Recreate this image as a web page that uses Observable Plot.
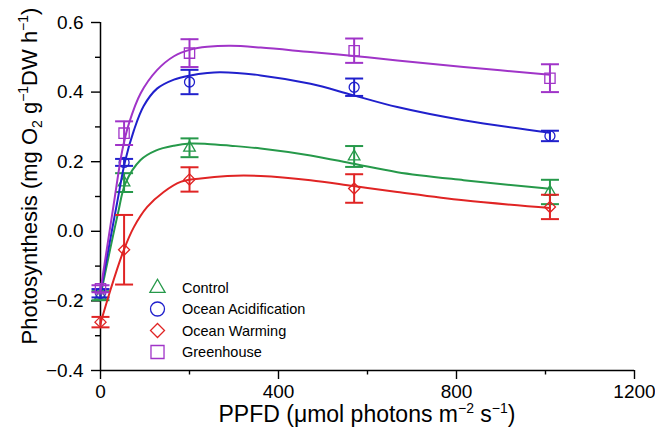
<!DOCTYPE html>
<html><head><meta charset="utf-8">
<script src="https://cdn.jsdelivr.net/npm/d3@7"></script>
<script src="https://cdn.jsdelivr.net/npm/@observablehq/plot@0.6"></script>
<style>body{margin:0;background:#fff} svg{display:block}</style>
</head><body><div id="chart"></div>
<script>
// ---- data ----
const ppfd = [0, 53, 200, 570, 1010];
const seriesNames = ["Control", "Ocean Acidification", "Ocean Warming", "Greenhouse"];

const controlMean = [-0.185, 0.14, 0.24, 0.215, 0.113];
const controlErr  = [0.013, 0.027, 0.027, 0.03, 0.035];
const acidMean    = [-0.178, 0.198, 0.429, 0.414, 0.274];
const acidErr     = [0.012, 0.01, 0.035, 0.025, 0.015];
const warmMean    = [-0.261, -0.053, 0.149, 0.123, 0.07];
const warmErr     = [0.015, 0.1, 0.035, 0.041, 0.035];
const houseMean   = [-0.165, 0.282, 0.512, 0.519, 0.44];
const houseErr    = [0.01, 0.034, 0.04, 0.035, 0.04];

// fitted curves
const controlFitX = [0, 39, 56, 90, 124, 165, 202, 240, 292, 360, 472, 569, 667, 816, 1010];
const controlFitY = [-0.185, 0.05, 0.138, 0.205, 0.232, 0.246, 0.252, 0.251, 0.246, 0.238, 0.218, 0.194, 0.17, 0.147, 0.122];
const acidFitX = [0, 37, 55, 75, 97, 127, 165, 202, 240, 270, 360, 472, 565, 667, 816, 1010];
const acidFitY = [-0.175, 0.08, 0.2, 0.29, 0.36, 0.41, 0.436, 0.448, 0.455, 0.457, 0.448, 0.424, 0.392, 0.357, 0.319, 0.283];
const warmFitX = [0, 22, 52, 75, 105, 142, 180, 225, 285, 360, 472, 569, 667, 816, 1010];
const warmFitY = [-0.265, -0.17, -0.055, 0.012, 0.07, 0.113, 0.142, 0.152, 0.159, 0.159, 0.147, 0.13, 0.113, 0.089, 0.067];
const houseFitX = [0, 30, 49, 64, 90, 127, 165, 202, 240, 292, 360, 472, 569, 667, 816, 1010];
const houseFitY = [-0.17, 0.08, 0.233, 0.31, 0.396, 0.463, 0.503, 0.522, 0.53, 0.533, 0.528, 0.515, 0.504, 0.491, 0.472, 0.45];

const xMajor = [0, 400, 800, 1200];
const xMinor = [200, 600, 1000];
const yMajor = [-0.4, -0.2, 0, 0.2, 0.4, 0.6];
const yMinor = [-0.3, -0.1, 0.1, 0.3, 0.5];

// ---- styles ----
const colors = ["#26994a", "#2020cc", "#e02424", "#a034c8"];
const symbols = ["triangle", "circle", "diamond2", "square"];
const radii = [4.3, 5, 5, 5.8];
const means = [controlMean, acidMean, warmMean, houseMean];
const errs = [controlErr, acidErr, warmErr, houseErr];
const fitsX = [controlFitX, acidFitX, warmFitX, houseFitX];
const fitsY = [controlFitY, acidFitY, warmFitY, houseFitY];

const cap = {draw(ctx, size) { const w = Math.sqrt(size / Math.PI); ctx.moveTo(-w, 0); ctx.lineTo(w, 0); }};

const marks = [
  Plot.axisX({ticks: xMajor, tickSize: 9, tickPadding: 5, tickFormat: d => String(d), label: null, strokeWidth: 1.4}),
  Plot.axisX({ticks: xMinor, tickSize: 4.5, fill: "none", label: null, strokeWidth: 1.4}),
  Plot.axisY({ticks: yMajor, tickSize: 9, tickPadding: 8, label: null, strokeWidth: 1.4}),
  Plot.axisY({ticks: yMinor, tickSize: 5, fill: "none", label: null, strokeWidth: 1.4}),
  Plot.ruleX([0], {stroke: "black", strokeWidth: 1.5}),
  Plot.ruleY([-0.4], {stroke: "black", strokeWidth: 1.5})
];

seriesNames.forEach((name, k) => {
  const pts = ppfd.map((x, i) => ({x, m: means[k][i], lo: means[k][i] - errs[k][i], hi: means[k][i] + errs[k][i]}));
  const fit = fitsX[k].map((x, i) => ({x, y: fitsY[k][i]}));
  marks.push(Plot.line(fit, {x: "x", y: "y", stroke: colors[k], strokeWidth: 2, curve: "catmull-rom"}));
  marks.push(Plot.ruleX(pts, {x: "x", y1: "lo", y2: "hi", stroke: colors[k], strokeWidth: 2}));
  marks.push(Plot.dot(pts, {x: "x", y: "lo", symbol: cap, r: 9, stroke: colors[k], strokeWidth: 2}));
  marks.push(Plot.dot(pts, {x: "x", y: "hi", symbol: cap, r: 9, stroke: colors[k], strokeWidth: 2}));
  marks.push(Plot.dot(pts, {x: "x", y: "m", symbol: symbols[k], r: radii[k], stroke: colors[k], fill: "none", strokeWidth: 1.3}));
});

const chart = Plot.plot({
  width: 655, height: 444,
  marginLeft: 100, marginRight: 21, marginTop: 22, marginBottom: 74,
  x: {domain: [0, 1200]},
  y: {domain: [-0.4, 0.6]},
  style: {fontFamily: "'Liberation Sans', Arial, sans-serif", fontSize: "19px", color: "black", background: "white"},
  marks
});
document.getElementById("chart").appendChild(chart);

const svg = d3.select(chart);
const font = "'Liberation Sans', Arial, sans-serif";

// x title
const xt = svg.append("text").attr("x", 367).attr("y", 422).attr("text-anchor", "middle")
  .attr("font-family", font).attr("font-size", 23).attr("fill", "black");
xt.append("tspan").text("PPFD (μmol photons m");
xt.append("tspan").attr("font-size", 14).attr("dy", -9).text("−2");
xt.append("tspan").attr("dy", 9).text(" s");
xt.append("tspan").attr("font-size", 14).attr("dy", -9).text("−1");
xt.append("tspan").attr("dy", 9).text(")");

// y title
const yt = svg.append("text").attr("transform", "translate(37,176) rotate(-90)").attr("text-anchor", "middle")
  .attr("font-family", font).attr("font-size", 22).attr("fill", "black");
yt.append("tspan").text("Photosynthesis (mg O");
yt.append("tspan").attr("font-size", 14).attr("dy", 5).text("2");
yt.append("tspan").attr("dy", -5).text(" g");
yt.append("tspan").attr("font-size", 14).attr("dy", -9).text("−1");
yt.append("tspan").attr("dy", 9).text("DW h");
yt.append("tspan").attr("font-size", 14).attr("dy", -9).text("−1");
yt.append("tspan").attr("dy", 9).text(")");

// legend
const legSym = [d3.symbolTriangle, d3.symbolCircle, d3.symbolDiamond2, d3.symbolSquare];
const legSize = [100, 154, 125, 170];
const rowY = [288, 309, 330.5, 352];
seriesNames.forEach((name, k) => {
  svg.append("path").attr("d", d3.symbol(legSym[k], legSize[k])())
    .attr("transform", `translate(157.5,${rowY[k]})`)
    .attr("fill", "none").attr("stroke", colors[k]).attr("stroke-width", 1.3);
  svg.append("text").attr("x", 182).attr("y", rowY[k]).attr("dy", "0.35em").attr("text-anchor", "start")
    .attr("font-family", font).attr("font-size", 14.5).attr("fill", "black").text(name);
});
</script>
</body></html>
